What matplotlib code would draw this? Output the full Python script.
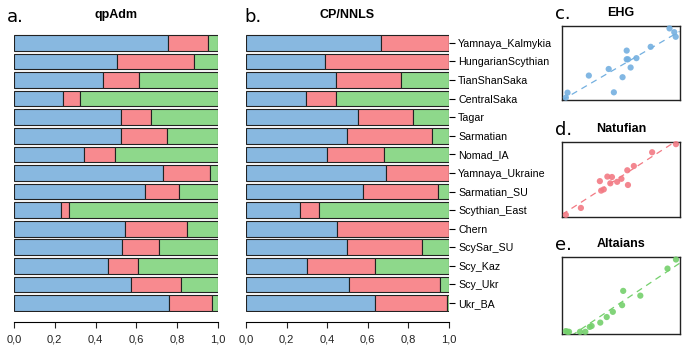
import numpy as np
import matplotlib
matplotlib.use("Agg")
import matplotlib.pyplot as plt
from matplotlib.ticker import FuncFormatter

plt.rcParams['font.family'] = ['Liberation Sans', 'DejaVu Sans']

# populations, top to bottom
pops = ["Yamnaya_Kalmykia", "HungarianScythian", "TianShanSaka", "CentralSaka", "Tagar",
        "Sarmatian", "Nomad_IA", "Yamnaya_Ukraine", "Sarmatian_SU", "Scythian_East",
        "Chern", "ScySar_SU", "Scy_Kaz", "Scy_Ukr", "Ukr_BA"]

# qpAdm proportions (EHG, Natufian, Altaians)
qp_ehg = [0.755, 0.505, 0.438, 0.239, 0.525, 0.525, 0.342, 0.732, 0.641, 0.231, 0.544, 0.531, 0.463, 0.572, 0.762]
qp_nat = [0.196, 0.376, 0.175, 0.085, 0.147, 0.227, 0.155, 0.229, 0.166, 0.039, 0.303, 0.180, 0.143, 0.247, 0.209]

# CP/NNLS proportions
cp_ehg = [0.666, 0.392, 0.442, 0.298, 0.554, 0.501, 0.402, 0.689, 0.577, 0.268, 0.451, 0.501, 0.300, 0.508, 0.638]
cp_nat = [0.334, 0.608, 0.323, 0.144, 0.270, 0.418, 0.279, 0.311, 0.372, 0.094, 0.549, 0.369, 0.339, 0.449, 0.356]

qp_alt = list(1 - np.array(qp_ehg) - np.array(qp_nat))
cp_alt = list(np.clip(1 - np.array(cp_ehg) - np.array(cp_nat), 0, None))

col_blue = "#88b8e0"
col_red = "#f88a8f"
col_green = "#8ed88b"

fig = plt.figure(figsize=(6.93, 3.47), dpi=100)

comma = FuncFormatter(lambda v, p: ("%.1f" % v).replace(".", ","))


def bar_panel(rect, ehg, nat, alt, show_labels):
    ax = fig.add_axes(rect)
    y = np.arange(len(pops))
    ehg = np.array(ehg)
    nat = np.array(nat)
    alt = np.array(alt)
    kw = dict(height=0.84, edgecolor="#222222", linewidth=0.8)
    ax.barh(y, ehg, color=col_blue, **kw)
    ax.barh(y, nat, left=ehg, color=col_red, **kw)
    ax.barh(y, alt, left=ehg + nat, color=col_green, **kw)
    ax.set_xlim(0, 1)
    ax.set_ylim(len(pops) - 0.5, -0.5)
    for s in ["top", "left", "right"]:
        ax.spines[s].set_visible(False)
    ax.spines["bottom"].set_position(("outward", 7))
    ax.spines["bottom"].set_linewidth(0.8)
    ax.set_xticks(np.arange(0, 1.01, 0.2))
    ax.xaxis.set_major_formatter(comma)
    ax.tick_params(axis="x", labelsize=8, length=4, width=0.8, pad=5, colors="#222222")
    if show_labels:
        ax.yaxis.tick_right()
        ax.set_yticks(y)
        ax.set_yticklabels(pops)
        ax.tick_params(axis="y", labelsize=7.7, length=4, width=0.8, pad=3)
    else:
        ax.set_yticks([])
    return ax


bar_panel([0.0202, 0.0998, 0.2944, 0.8037], qp_ehg, qp_nat, qp_alt, False)
bar_panel([0.3550, 0.0998, 0.2922, 0.8037], cp_ehg, cp_nat, cp_alt, True)

fig.text(0.167, 0.958, "qpAdm", ha="center", va="center", fontsize=9, fontweight="bold")
fig.text(0.501, 0.958, "CP/NNLS", ha="center", va="center", fontsize=9, fontweight="bold")
fig.text(0.010, 0.95, "a.", ha="left", va="center", fontsize=13, family="DejaVu Sans")
fig.text(0.352, 0.95, "b.", ha="left", va="center", fontsize=13, family="DejaVu Sans")


def scatter_panel(rect, xs, ys, col, title, letter):
    ax = fig.add_axes(rect)
    xs = np.array(xs)
    ys = np.array(ys)
    ax.scatter(xs, ys, s=20, color=col, alpha=0.9, edgecolor="none", zorder=3, clip_on=False)
    ax.margins(0.035)
    x0, x1 = ax.get_xlim()
    y0, y1 = ax.get_ylim()
    k, b = np.polyfit(xs, ys, 1)
    xx = np.array([x0, x1])
    ax.plot(xx, k * xx + b, ls=(0, (5, 4)), color=col, lw=0.9, zorder=2)
    ax.set_xlim(x0, x1)
    ax.set_ylim(y0, y1)
    ax.set_xticks([])
    ax.set_yticks([])
    for s in ax.spines.values():
        s.set_linewidth(1.0)
        s.set_color("#222222")
    top = rect[1] + rect[3]
    ax.text(0.5, 1.0 + 13.0 / (rect[3] * 347), title, transform=ax.transAxes,
            ha="center", va="center", fontsize=9, fontweight="bold")
    fig.text(0.801, top + 12.0 / 347, letter, ha="left", va="center", fontsize=13, family="DejaVu Sans")


scatter_panel([0.811, 0.7118, 0.1696, 0.2133], qp_ehg, cp_ehg, "#74b0e0", "EHG", "c.")
scatter_panel([0.811, 0.3738, 0.1700, 0.2179], qp_nat, cp_nat, "#f27a84", "Natufian", "d.")
scatter_panel([0.811, 0.0366, 0.1700, 0.2228], qp_alt, cp_alt, "#74d06c", "Altaians", "e.")

fig.savefig("out.png", dpi=100)
